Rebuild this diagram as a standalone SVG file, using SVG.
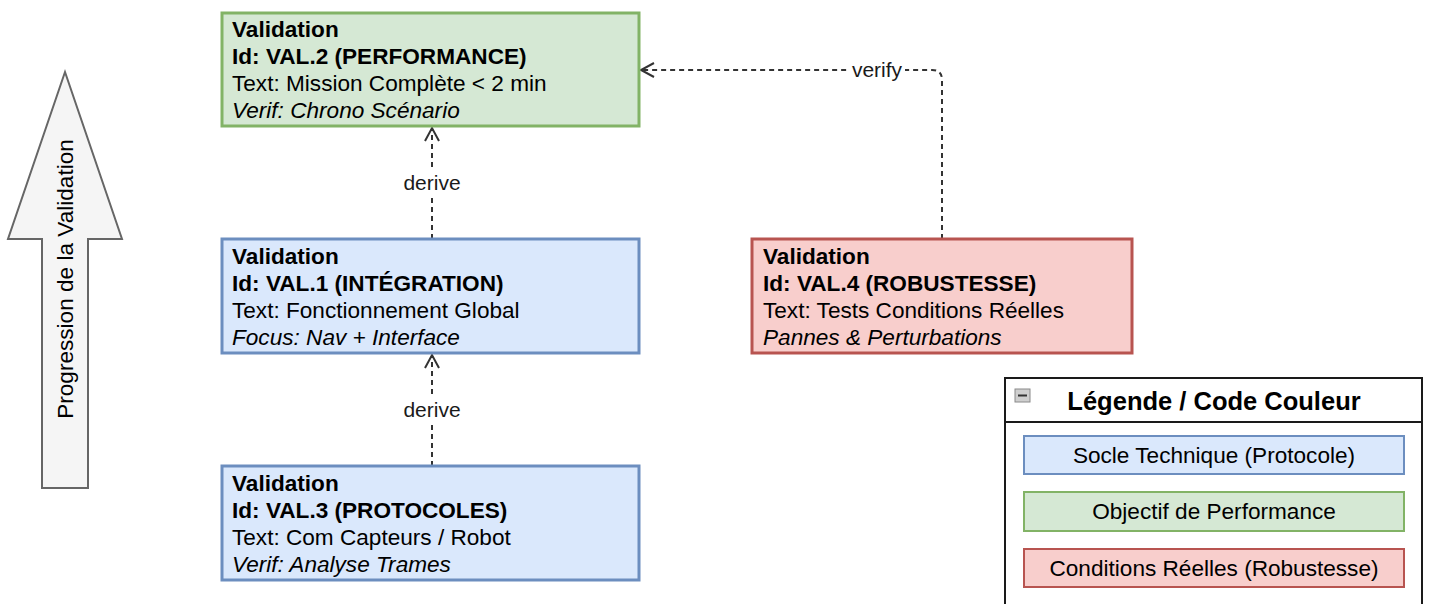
<svg xmlns="http://www.w3.org/2000/svg" width="1429" height="604" viewBox="0 0 1429 604">
  <style>
    text { font-family: "Liberation Sans", Arial, sans-serif; fill: #000; }
    .t { font-size: 22.6px; }
    .b { font-weight: bold; }
    .i { font-style: italic; }
    .lbl { font-size: 21px; fill: #1a1a1a; }
    .box { stroke-width: 3; }
    .blue { fill: #dae8fc; stroke: #6c8ebf; }
    .green { fill: #d5e8d4; stroke: #82b366; }
    .red { fill: #f8cecc; stroke: #b85450; }
    .edge { fill: none; stroke: #333; stroke-width: 2; stroke-dasharray: 5 4; }
    .head { fill: none; stroke: #333; stroke-width: 2; }
    .item { stroke-width: 2; }
  </style>

  <!-- background -->
  <rect x="0" y="0" width="1429" height="604" fill="#ffffff"/>

  <!-- progression arrow -->
  <g id="progression">
    <polygon points="65,72 122,239 88,239 88,488 42,488 42,239 8,239" fill="#f5f5f5" stroke="#666666" stroke-width="2"/>
    <text class="t" x="0" y="0" text-anchor="middle" transform="translate(73,279) rotate(-90)">Progression de la Validation</text>
  </g>

  <!-- connectors -->
  <g id="connectors">
    <!-- VAL.1 derives VAL.2 -->
    <line class="edge" x1="432" y1="239" x2="432" y2="129"/>
    <polyline class="head" points="425,141 432,128 439,141"/>
    <rect x="401" y="171" width="62" height="24" fill="#fff"/>
    <text class="lbl" x="432" y="190" text-anchor="middle">derive</text>

    <!-- VAL.3 derives VAL.1 -->
    <line class="edge" x1="432" y1="466" x2="432" y2="356"/>
    <polyline class="head" points="425,368 432,355 439,368"/>
    <rect x="401" y="398" width="62" height="24" fill="#fff"/>
    <text class="lbl" x="432" y="417" text-anchor="middle">derive</text>

    <!-- VAL.4 verifies VAL.2 -->
    <path class="edge" d="M942,239 V80 Q942,70 932,70 H643"/>
    <polyline class="head" points="654,63 641,70 654,77"/>
    <rect x="849" y="58" width="56" height="24" fill="#fff"/>
    <text class="lbl" x="877" y="77" text-anchor="middle">verify</text>
  </g>

  <!-- VAL.2 performance -->
  <g id="val2">
    <rect class="box green" x="222" y="13" width="417" height="113"/>
    <text class="t b" x="232" y="37">Validation</text>
    <text class="t b" x="232" y="64">Id: VAL.2 (PERFORMANCE)</text>
    <text class="t" x="232" y="91">Text: Mission Complète &lt; 2 min</text>
    <text class="t i" x="232" y="118">Verif: Chrono Scénario</text>
  </g>

  <!-- VAL.1 integration -->
  <g id="val1">
    <rect class="box blue" x="222" y="239" width="417" height="114"/>
    <text class="t b" x="232" y="264">Validation</text>
    <text class="t b" x="232" y="291">Id: VAL.1 (INTÉGRATION)</text>
    <text class="t" x="232" y="318">Text: Fonctionnement Global</text>
    <text class="t i" x="232" y="345">Focus: Nav + Interface</text>
  </g>

  <!-- VAL.3 protocols -->
  <g id="val3">
    <rect class="box blue" x="222" y="466" width="417" height="114"/>
    <text class="t b" x="232" y="491">Validation</text>
    <text class="t b" x="232" y="518">Id: VAL.3 (PROTOCOLES)</text>
    <text class="t" x="232" y="545">Text: Com Capteurs / Robot</text>
    <text class="t i" x="232" y="572">Verif: Analyse Trames</text>
  </g>

  <!-- VAL.4 robustness -->
  <g id="val4">
    <rect class="box red" x="752" y="239" width="380" height="114"/>
    <text class="t b" x="763" y="264">Validation</text>
    <text class="t b" x="763" y="291">Id: VAL.4 (ROBUSTESSE)</text>
    <text class="t" x="763" y="318">Text: Tests Conditions Réelles</text>
    <text class="t i" x="763" y="345">Pannes &amp; Perturbations</text>
  </g>

  <!-- colour legend -->
  <g id="legend">
    <rect x="1005" y="378" width="417" height="240" fill="#ffffff" stroke="#1a1a1a" stroke-width="2"/>
    <line x1="1005" y1="422" x2="1422" y2="422" stroke="#1a1a1a" stroke-width="2"/>
    <rect x="1015" y="389" width="15" height="13" fill="#cfcfcf" stroke="#8a8a8a" stroke-width="1"/>
    <line x1="1018" y1="395.5" x2="1027" y2="395.5" stroke="#333" stroke-width="2"/>
    <text class="b" x="1214" y="410" text-anchor="middle" font-size="25.5">Légende / Code Couleur</text>
    <g id="legend-socle">
      <rect class="item blue" x="1024" y="436" width="380" height="38"/>
      <text class="t" x="1214" y="463" text-anchor="middle">Socle Technique (Protocole)</text>
    </g>
    <g id="legend-objectif">
      <rect class="item green" x="1024" y="492" width="380" height="39"/>
      <text class="t" x="1214" y="519" text-anchor="middle">Objectif de Performance</text>
    </g>
    <g id="legend-conditions">
      <rect class="item red" x="1024" y="549" width="380" height="38"/>
      <text class="t" x="1214" y="576" text-anchor="middle">Conditions Réelles (Robustesse)</text>
    </g>
  </g>
</svg>
